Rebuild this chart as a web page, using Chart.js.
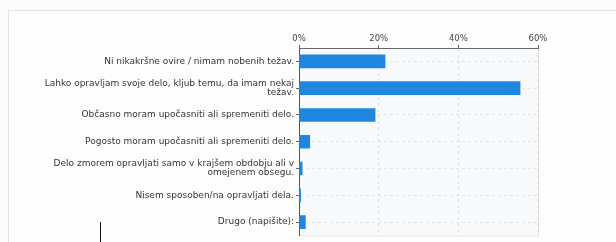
<!DOCTYPE html>
<html>
<head>
<meta charset="utf-8">
<script src="https://cdn.jsdelivr.net/npm/chart.js@4.4.0/dist/chart.umd.min.js"></script>
<style>
  html, body { margin: 0; padding: 0; background: #fcfcfc; }
  #wrap { position: relative; width: 616px; height: 242px; overflow: hidden; }
  #frame { position: absolute; left: 8px; top: 10px; width: 620px; height: 240px; border: 1px solid #e2e2e2; background: #fefefe; }
  #cursor { position: absolute; left: 100px; top: 222px; width: 1px; height: 20px; background: #111; }
  canvas { position: absolute; left: 0; top: 0; }
</style>
</head>
<body>
<div id="wrap">
  <div id="frame"></div>
  <canvas id="barChart" width="616" height="242"></canvas>
  <div id="cursor"></div>
</div>
<script>
// kategorije odgovorov
const answers = [
    'Ni nikakršne ovire / nimam nobenih težav.',
    ['Lahko opravljam svoje delo, kljub temu, da imam nekaj', 'težav.'],
    'Občasno moram upočasniti ali spremeniti delo.',
    'Pogosto moram upočasniti ali spremeniti delo.',
    ['Delo zmorem opravljati samo v krajšem obdobju ali v', 'omejenem obsegu.'],
    'Nisem sposoben/na opravljati dela.',
    'Drugo (napišite):'
];
// delež odgovorov v %
const shares = [21.6, 55.5, 19.1, 2.7, 0.8, 0.4, 1.6];
const tickValues = [0, 20, 40, 60];

// ozadje risalne površine
const plotBg = {
    id: 'plotBg',
    beforeDraw(chart) {
        const { ctx, chartArea: a } = chart;
        ctx.save();
        ctx.fillStyle = '#f8f9fb';
        ctx.fillRect(a.left, a.top, a.right - a.left, a.bottom - a.top);
        ctx.strokeStyle = '#e6e6e6';
        ctx.lineWidth = 1;
        ctx.beginPath();
        ctx.moveTo(a.right + 0.5, a.top);
        ctx.lineTo(a.right + 0.5, a.bottom + 0.5);
        ctx.lineTo(a.left, a.bottom + 0.5);
        ctx.stroke();
        ctx.restore();
    }
};

const ctx = document.getElementById('barChart').getContext('2d');
new Chart(ctx, {
    type: 'bar',
    data: {
        labels: answers,
        datasets: [{
            data: shares,
            backgroundColor: '#1f87e0',
            barThickness: 13
        }]
    },
    options: {
        indexAxis: 'y',
        responsive: false,
        animation: false,
        layout: { padding: { left: 0, right: 78, top: 0, bottom: 5 } },
        plugins: { legend: { display: false }, tooltip: { enabled: false } },
        scales: {
            x: {
                position: 'top',
                min: 0,
                max: 60,
                afterFit(scale) { scale.height = 48; },
                afterBuildTicks(scale) { scale.ticks = tickValues.map(v => ({ value: v })); },
                ticks: {
                    callback: v => v + '%',
                    color: '#444',
                    padding: 1,
                    maxRotation: 0,
                    font: { family: 'DejaVu Sans', size: 8.5 }
                },
                grid: {
                    color: 'rgba(0,0,0,0.09)',
                    tickColor: '#666',
                    tickLength: 3,
                    tickBorderDash: []
                },
                border: { color: '#666', width: 1, dash: [3, 3] }
            },
            y: {
                afterFit(scale) { scale.width = 299; },
                ticks: {
                    color: '#333',
                    padding: 2,
                    crossAlign: 'near',
                    font: { family: 'DejaVu Sans', size: 9, lineHeight: 1.0 }
                },
                grid: {
                    offset: false,
                    color: 'rgba(0,0,0,0.08)',
                    tickColor: '#666',
                    tickLength: 3,
                    tickBorderDash: []
                },
                border: { color: '#555', width: 1, dash: [3, 3] }
            }
        }
    },
    plugins: [plotBg]
});
</script>
</body>
</html>
